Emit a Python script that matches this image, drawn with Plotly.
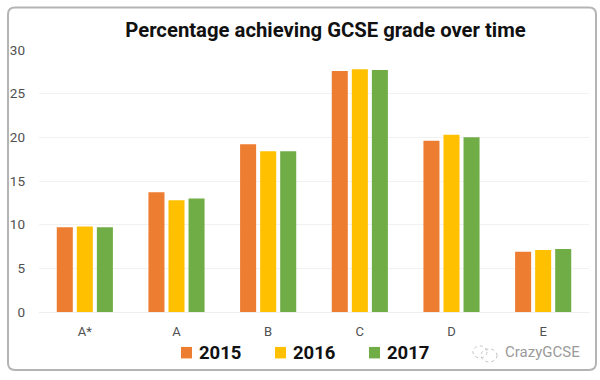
import plotly.graph_objects as go

categories = ["A*", "A", "B", "C", "D", "E"]
years = ["2015", "2016", "2017"]
v2015 = [9.7, 13.7, 19.2, 27.6, 19.6, 6.9]
v2016 = [9.8, 12.8, 18.4, 27.8, 20.3, 7.1]
v2017 = [9.7, 13.0, 18.4, 27.7, 20.0, 7.2]
colors = ["#ED7D31", "#FFC000", "#70AD47"]
y_ticks = [0, 5, 10, 15, 20, 25, 30]

W, H = 600, 380
ML, MR, MT, MB = 39, 11, 49.5, 68
fig = go.Figure()
for name, vals, c in zip(years, [v2015, v2016, v2017], colors):
    fig.add_bar(x=categories, y=vals, name=name, marker=dict(color=c, line_width=0), showlegend=False)

def px(x): return (x - ML) / (W - ML - MR)
def py(y): return 1 - (y - MT) / (H - MT - MB)
def P(x, y): return f"{px(x)} {py(y)}"

r = 7
frame = (f"M {P(8+r,7)} L {P(596-r,7)} Q {P(596,7)} {P(596,7+r)} L {P(596,370-r)} Q {P(596,370)} {P(596-r,370)} "
         f"L {P(8+r,370)} Q {P(8,370)} {P(8,370-r)} L {P(8,7+r)} Q {P(8,7)} {P(8+r,7)} Z")

shapes = [
    dict(type="path", xref="paper", yref="paper", path=frame, line=dict(color="#b4b4b4", width=2), fillcolor="rgba(0,0,0,0)", layer="below"),
    dict(type="circle", xref="paper", yref="paper", x0=px(473), x1=px(487), y0=py(358), y1=py(346), line=dict(color="#c4c4c4", width=1, dash="dot")),
    dict(type="circle", xref="paper", yref="paper", x0=px(481), x1=px(497), y0=py(362), y1=py(349), line=dict(color="#c4c4c4", width=1, dash="dot")),
]
annotations = [dict(text="CrazyGCSE", xref="paper", yref="paper", x=px(503), y=py(352),
                    xanchor="left", yanchor="middle", showarrow=False,
                    font=dict(family="Roboto", size=15, color="#9a9a9a"))]
# legend keys
for i, (name, c) in enumerate(zip(years, colors)):
    kx = 181 + 94 * i
    shapes.append(dict(type="rect", xref="paper", yref="paper", x0=px(kx), x1=px(kx + 11),
                       y0=py(358.5), y1=py(347), fillcolor=c, line_width=0))
    annotations.append(dict(text=f"<b>{name}</b>", xref="paper", yref="paper", x=px(kx + 15.5), y=py(353.5),
                            xanchor="left", yanchor="middle", showarrow=False,
                            font=dict(family="Roboto", size=18.5, color="#111111")))

fig.update_layout(
    width=W, height=H, autosize=False,
    margin=dict(l=ML, r=MR, t=MT, b=MB, autoexpand=False),
    paper_bgcolor="white", plot_bgcolor="white",
    barmode="group", bargap=0.344, bargroupgap=0.2,
    font=dict(family="Roboto, sans-serif", color="#505050", size=12),
    title=dict(text="<b>Percentage achieving GCSE grade over time</b>",
               x=325.5 / W, xanchor="center", y=1 - 30 / H, yanchor="middle",
               font=dict(family="Roboto", size=20.3, color="#111111")),
    shapes=shapes,
    annotations=annotations,
)
fig.update_xaxes(tickfont=dict(size=13, color="#505050"), showgrid=False, showline=True,
                 linecolor="#eeeeee", linewidth=1, ticks="", ticklabelstandoff=7)
fig.update_yaxes(range=[0, 30], tickvals=y_ticks, tickfont=dict(size=13.5, color="#505050"),
                 gridcolor="#f1f1f1", gridwidth=1, zeroline=False, ticks="", ticklabelstandoff=13)
fig.write_html("out.html", config=dict(displayModeBar=False),
               post_script="document.body.style.margin='0';")
